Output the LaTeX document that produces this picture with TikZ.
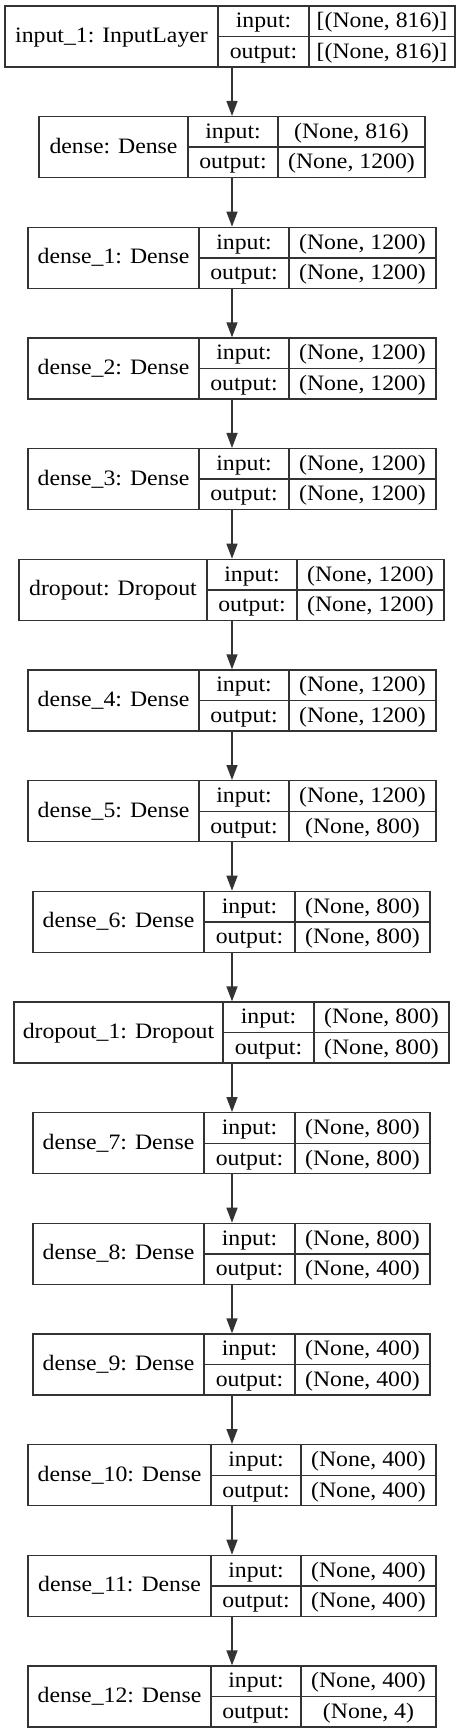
\documentclass[tikz,border=0pt]{standalone}
\usepackage{fontspec}
\setmainfont[FakeStretch=1.08]{Liberation Serif}
\usetikzlibrary{arrows.meta}
\definecolor{ln}{HTML}{333333}
\newcommand\nnlayer[9]{%
  \pgfmathsetmacro\T{6+110.67*#2}%
  \node[box, minimum width={(#6-#3)*1pt}] (#1) at ({(#3+#6)/2},{\T+30.5}) {};
  \draw[sep] (#4,\T) -- (#4,\T+61);
  \draw[sep] (#5,\T) -- (#5,\T+61);
  \draw[sep] (#4,\T+30.5) -- (#6,\T+30.5);
  \node[lbl] (#1-name) at ({(#3+#4)/2},{\T+36.5}) {#7};
  \node[lbl] (#1-inl) at ({(#4+#5)/2},{\T+21.8}) {input:};
  \node[lbl] (#1-outl) at ({(#4+#5)/2},{\T+52.3}) {output:};
  \node[lbl] (#1-inv) at ({(#5+#6)/2},{\T+21.8}) {#8};
  \node[lbl] (#1-outv) at ({(#5+#6)/2},{\T+52.3}) {#9};
}
\begin{document}
\begin{tikzpicture}[x=1pt,y=-1pt,
  box/.style={draw=ln, line width=1.4pt, inner sep=0pt, minimum height=61pt, fill=white},
  sep/.style={draw=ln, line width=1.4pt},
  lbl/.style={inner sep=0pt, anchor=base, font=\fontsize{22}{26}\selectfont},
  arr/.style={draw=ln, line width=1.4pt, -{Triangle[length=15pt,width=11pt]}}]
\useasboundingbox[fill=white] (0,0) rectangle (464,1733);
\coordinate (ax) at (232,0);
\nnlayer{b0}{0}{5}{218}{309}{455}{input\_1: InputLayer}{[(None, 816)]}{[(None, 816)]}
\nnlayer{b1}{1}{39}{188}{278}{425}{dense: Dense}{(None, 816)}{(None, 1200)}
\nnlayer{b2}{2}{28}{199}{289}{436}{dense\_1: Dense}{(None, 1200)}{(None, 1200)}
\nnlayer{b3}{3}{28}{199}{289}{436}{dense\_2: Dense}{(None, 1200)}{(None, 1200)}
\nnlayer{b4}{4}{28}{199}{289}{436}{dense\_3: Dense}{(None, 1200)}{(None, 1200)}
\nnlayer{b5}{5}{19}{207}{297}{444}{dropout: Dropout}{(None, 1200)}{(None, 1200)}
\nnlayer{b6}{6}{28}{199}{289}{436}{dense\_4: Dense}{(None, 1200)}{(None, 1200)}
\nnlayer{b7}{7}{28}{199}{289}{436}{dense\_5: Dense}{(None, 1200)}{(None, 800)}
\nnlayer{b8}{8}{33}{204}{295}{430}{dense\_6: Dense}{(None, 800)}{(None, 800)}
\nnlayer{b9}{9}{14}{223}{314}{449}{dropout\_1: Dropout}{(None, 800)}{(None, 800)}
\nnlayer{b10}{10}{33}{204}{295}{430}{dense\_7: Dense}{(None, 800)}{(None, 800)}
\nnlayer{b11}{11}{33}{204}{295}{430}{dense\_8: Dense}{(None, 800)}{(None, 400)}
\nnlayer{b12}{12}{33}{204}{295}{430}{dense\_9: Dense}{(None, 400)}{(None, 400)}
\nnlayer{b13}{13}{28}{211}{301}{436}{dense\_10: Dense}{(None, 400)}{(None, 400)}
\nnlayer{b14}{14}{28}{211}{301}{436}{dense\_11: Dense}{(None, 400)}{(None, 400)}
\nnlayer{b15}{15}{28}{211}{301}{436}{dense\_12: Dense}{(None, 400)}{(None, 4)}
\foreach \a/\b in {b0/b1,b1/b2,b2/b3,b3/b4,b4/b5,b5/b6,b6/b7,b7/b8,b8/b9,b9/b10,b10/b11,b11/b12,b12/b13,b13/b14,b14/b15}
  \draw[arr] (\a.south -| ax) -- (\b.north -| ax);
\end{tikzpicture}
\end{document}
